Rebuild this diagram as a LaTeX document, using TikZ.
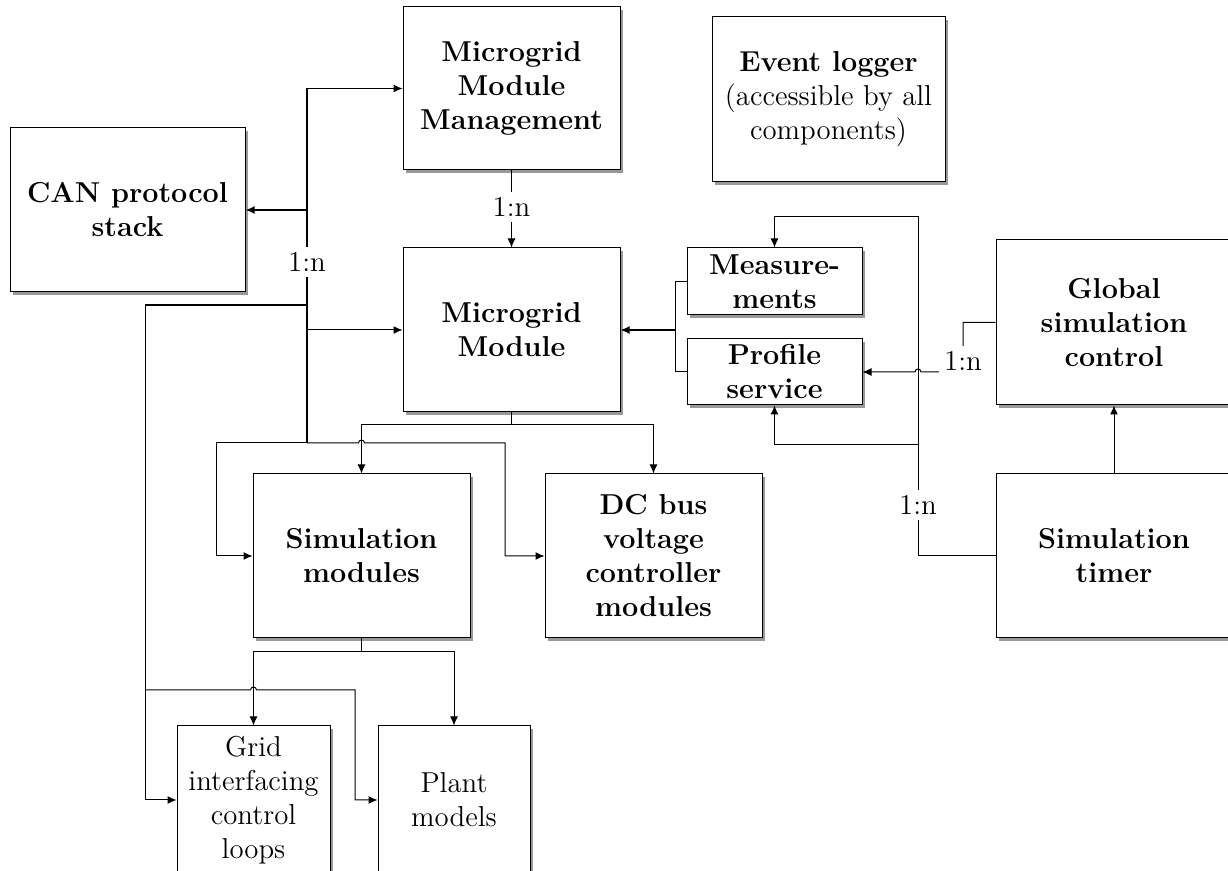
\documentclass[tikz,border=0pt]{standalone}
\usetikzlibrary{arrows.meta,shadows}
\begin{document}
\begin{tikzpicture}[x=0.5pt,y=-0.5pt,
  txt/.style={font=\fontsize{14.4}{17}\selectfont},
  box/.style={txt,draw=black,line width=0.5pt,fill=white,align=center,inner sep=2pt,
    drop shadow={shadow xshift=1.5pt,shadow yshift=-1.5pt,fill=black!40,opacity=1}},
  bbox/.style={box,font=\fontsize{14.4}{17}\selectfont\bfseries},
  conn/.style={line width=0.5pt},
  heavy/.style={line width=0.9pt},
  tip/.style={-{Latex[length=4.5pt,width=4pt]}},
  lbl/.style={txt,fill=white,inner sep=2.5pt}]
\clip (0,0) rectangle (1228,871);
\fill[white] (0,0) rectangle (1228,871);

% blocks
\node[bbox,minimum width=117.5pt,minimum height=82pt] (can) at (127.5,210) {CAN protocol\\stack};
\node[bbox,minimum width=108.5pt,minimum height=81.5pt] (mmm) at (511.5,88.5) {Microgrid\\Module\\Management};
\node[box,minimum width=116.5pt,minimum height=82.5pt] (elog) at (828.5,99.5) {\textbf{Event logger}\\(accessible by all\\components)};
\node[bbox,minimum width=108.5pt,minimum height=82pt] (mm) at (511.5,330) {Microgrid\\Module};
\node[bbox,minimum width=87.5pt,minimum height=33.5pt,inner sep=0pt] (meas) at (774.5,281.5) {Measure-\\ments};
\node[bbox,minimum width=87.5pt,minimum height=33pt,inner sep=0pt] (prof) at (774.5,372) {Profile\\service};
\node[bbox,minimum width=118pt,minimum height=82.5pt] (gsc) at (1114,322.5) {Global\\simulation\\control};
\node[bbox,minimum width=108.5pt,minimum height=82pt] (simm) at (361.5,556) {Simulation\\modules};
\node[bbox,minimum width=108.5pt,minimum height=82pt] (dcbus) at (653.5,556) {DC bus\\voltage\\controller\\modules};
\node[bbox,minimum width=118pt,minimum height=82pt] (timer) at (1114,556) {Simulation\\timer};
\node[box,minimum width=76.5pt,minimum height=74pt] (grid) at (253.5,800) {Grid\\interfacing\\control\\loops};
\node[box,minimum width=76pt,minimum height=74pt] (plant) at (454,800) {Plant\\models};

% communication bus on the left
\coordinate (busx) at (307,0);
\coordinate (bend) at (307,443);
\coordinate (leftdrop) at (216,443);
\coordinate (rightdrop) at (505,443);
\draw[heavy] (busx |- mmm.west) -- (bend);
\draw[conn,tip] (busx |- mmm.west) -- (mmm.west);
\draw[heavy,tip] (busx |- can.east) -- (can.east);
\draw[conn,tip] (busx |- mm.west) -- (mm.west);
\node[lbl] (n1) at (307,262) {1:n};
\draw[heavy] (busx |- 0,305) -- (145,305);
\draw[conn,tip] (145,305) -- (145,800) -- (grid.west);
\draw[conn,tip] (145,690) -- (250.5,690) arc[start angle=180,end angle=0,radius=1.5pt]
  -- (355,690) -- (355,800) -- (plant.west);
\draw[conn,tip] (bend) -- (leftdrop) |- (simm.west);
\draw[conn,tip] (bend) -- (358.5,443) arc[start angle=180,end angle=0,radius=1.5pt]
  -- (rightdrop) |- (dcbus.west);

% management to module
\draw[conn,tip] (mmm.south) -- (mm.north);
\node[lbl] (n2) at (511.5,207) {1:n};

% module to its children
\draw[conn] (mm.south) -- (511.5,425);
\draw[conn,tip] (511.5,425) -| (simm.north);
\draw[conn,tip] (511.5,425) -| (dcbus.north);
\draw[conn] (simm.south) -- (361.5,652);
\draw[conn,tip] (361.5,652) -| (grid.north);
\draw[conn,tip] (361.5,652) -| (plant.north);

% services
\draw[conn] (meas.west) -- (675,281.5) -- (675,372) -- (prof.west);
\draw[heavy,tip] (675,330) -- (mm.east);

% simulation timer and control
\draw[conn,tip] (timer.west) -- (918,556) -- (918,217) -- (774.5,217) -- (meas.north);
\draw[conn,tip] (918,445) -- (774.5,445) -- (prof.south);
\node[lbl] (n3) at (918,505) {1:n};
\draw[conn,tip] (gsc.west |- 0,322.5) -- (963,322.5) -- (963,372)
  -- (921,372) arc[start angle=0,end angle=180,radius=1.5pt] -- (prof.east);
\node[lbl] (n4) at (963,361) {1:n};
\draw[conn,tip] (timer.north) -- (gsc.south);
\end{tikzpicture}
\end{document}
